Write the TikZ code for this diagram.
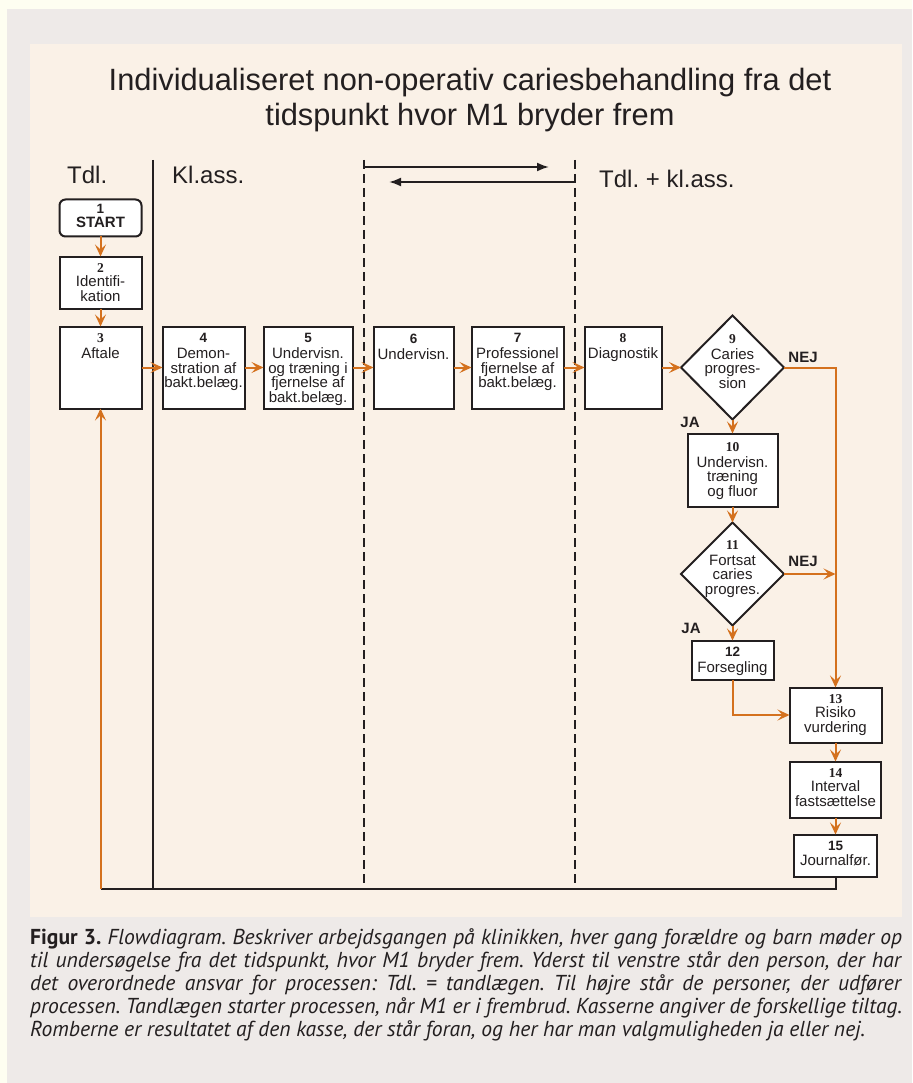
\documentclass[tikz,border=0pt]{standalone}
\usepackage{fontspec}
\setmainfont{Liberation Sans}
\newfontfamily\hvfam{Liberation Sans}
\newfontfamily\tmfam{Liberation Serif}
\newfontfamily\capfam{PT Sans}
\usetikzlibrary{arrows.meta,shapes.geometric}
\definecolor{ylw}{HTML}{FEFEF1}
\definecolor{gry}{HTML}{EEEAE8}
\definecolor{bge}{HTML}{FAF1E7}
\definecolor{orng}{HTML}{D4711E}
\definecolor{ink}{HTML}{231F20}
\newcommand\nT{\fontsize{13.5}{13.5}\selectfont\tmfam\bfseries}
\newcommand\nS{\fontsize{13.5}{13.5}\selectfont\hvfam\bfseries}
\frenchspacing
\begin{document}
\begin{tikzpicture}[x=1pt,y=-1pt,
  box/.style={draw=ink, line width=2pt, fill=white, inner sep=0pt, outer sep=0pt},
  txt/.style={anchor=north, align=center, inner sep=0pt, text=ink, font=\hvfam\fontsize{15}{14.5}\selectfont, yshift=-6.5pt},
  dtxt/.style={txt, yshift=-12pt},
  dia/.style={diamond, draw=ink, line width=2pt, fill=white, inner sep=0pt, outer sep=0pt, minimum width=103pt, minimum height=104pt},
  flow/.style={draw=orng, line width=2pt, -{Stealth[length=12pt,width=11pt,inset=5pt]}},
  sep/.style={draw=ink, line width=2pt},
  dsep/.style={draw=ink, line width=2pt, dash pattern=on 9pt off 5pt},
  blk/.style={draw=ink, line width=2pt, -{Latex[length=12pt,width=9pt]}},
  col/.style={anchor=base west, inner sep=0pt, text=ink, font=\hvfam\fontsize{24}{24}\selectfont},
  yn/.style={inner sep=0pt, text=ink, font=\hvfam\bfseries\fontsize{15}{15}\selectfont}
]
\useasboundingbox (0,0) rectangle (912,1083);
\fill[ylw] (0,0) rectangle (912,1083);
\fill[gry] (7,9) rectangle (912,1083);
\fill[bge] (30,44) rectangle (902,917);

% title
\node[anchor=north, align=center, inner sep=0pt, text=ink, font=\hvfam\fontsize{30.8}{35}\selectfont] (title) at (470,67.5)
  {Individualiseret non-operativ cariesbehandling fra det\\tidspunkt hvor M1 bryder frem};

% column labels
\node[col] (ctdl) at (67,184) {Tdl.};
\node[col] (ckl) at (172,184) {Kl.ass.};
\node[col] (cboth) at (599,188) {Tdl. + kl.ass.};

% separators
\draw[sep] (153,160) -- (153,889);
\draw[dsep] (364,160) -- (364,889);
\draw[dsep] (574.5,160) -- (574.5,889);

% top arrows
\coordinate (a1s) at (364,167);
\coordinate (a1e) at (549,167);
\coordinate (a2s) at (574.5,182);
\coordinate (a2e) at (389,182);
\draw[blk] (a1s) -- (a1e);
\draw[blk] (a2s) -- (a2e);

% boxes
\node[box, rounded corners=6pt, minimum width=82pt, minimum height=37pt,
  label={[txt,yshift=1.5pt]north:{{\nS 1}\\[-1pt]{\bfseries START}}}] (b1) at (100.5,218) {};
\node[box, minimum width=82pt, minimum height=52pt,
  label={[txt]north:{{\nT 2}\\[0pt]Identifi-\\kation}}] (b2) at (100.5,282.5) {};
\node[box, minimum width=82pt, minimum height=82pt,
  label={[txt,yshift=-0.5pt]north:{{\nT 3}\\[1.5pt]Aftale}}] (b3) at (100.5,367.5) {};
\node[box, minimum width=82pt, minimum height=82pt,
  label={[txt,yshift=-0.5pt]north:{{\nS 4}\\[1.5pt]Demon-\\stration af\\bakt.belæg.}}] (b4) at (203.5,367.5) {};
\node[box, minimum width=89pt, minimum height=82pt,
  label={[txt,yshift=-0.5pt]north:{{\nS 5}\\[1.5pt]Undervisn.\\og træning i\\fjernelse af\\bakt.belæg.}}] (b5) at (308,367.5) {};
\node[box, minimum width=80pt, minimum height=82pt,
  label={[txt,yshift=-0.5pt]north:{{\nS 6}\\[1.5pt]Undervisn.}}] (b6) at (413.5,367.5) {};
\node[box, minimum width=92pt, minimum height=82pt,
  label={[txt,yshift=-0.5pt]north:{{\nS 7}\\[1.5pt]Professionel\\fjernelse af\\bakt.belæg.}}] (b7) at (517.5,367.5) {};
\node[box, minimum width=77pt, minimum height=82pt,
  label={[txt,yshift=-0.5pt]north:{{\nT 8}\\[1.5pt]Diagnostik}}] (b8) at (623,367.5) {};
\node[dia, label={[dtxt]north:{{\nT 9}\\[1.5pt]Caries\\progres-\\sion}}] (d9) at (732.5,367.5) {};
\node[box, minimum width=90pt, minimum height=73pt,
  label={[txt,yshift=-2pt]north:{{\nT 10}\\[1.5pt]Undervisn.\\træning\\og fluor}}] (b10) at (732.5,470) {};
\node[dia, minimum height=103pt, label={[dtxt,yshift=1pt]north:{{\nT 11}\\[1.5pt]Fortsat\\caries\\progres.}}] (d11) at (732.5,574) {};
\node[box, minimum width=82pt, minimum height=39pt,
  label={[txt]north:{{\nS 12}\\[1pt]Forsegling}}] (b12) at (732.5,660) {};
\node[box, minimum width=92pt, minimum height=55pt,
  label={[txt]north:{{\nT 13}\\[0pt]Risiko\\vurdering}}] (b13) at (835.5,715) {};
\node[box, minimum width=91pt, minimum height=56pt,
  label={[txt]north:{{\nT 14}\\[0pt]Interval\\fastsættelse}}] (b14) at (835.5,789.5) {};
\node[box, minimum width=83pt, minimum height=42pt,
  label={[txt]north:{{\nS 15}\\[1pt]Journalfør.}}] (b15) at (835.5,855.5) {};

% yes / no labels
\node[yn] (nej9) at (803,357) {NEJ};
\node[yn] (ja9) at (690,422) {JA};
\node[yn] (nej11) at (803,561) {NEJ};
\node[yn] (ja11) at (691,628) {JA};

% flow connectors
\draw[flow] (b1) -- (b2);
\draw[flow] (b2) -- (b3);
\draw[flow] (b3) -- (b4);
\draw[flow] (b4) -- (b5);
\draw[flow] (b5) -- (b6);
\draw[flow] (b6) -- (b7);
\draw[flow] (b7) -- (b8);
\draw[flow] (b8) -- (d9);
\draw[flow] (d9.east) -| (b13.north);
\draw[flow] (d9.south) -- (b10.north);
\draw[flow] (b10.south) -- (d11.north);
\draw[flow] (d11.east) -- (d11.east -| b13.north);
\draw[flow] (d11.south) -- (b12.north);
\draw[flow] (b12.south) |- (b13.west);
\draw[flow] (b13.south) -- (b14.north);
\draw[flow] (b14.south) -- (b15.north);

% return path
\coordinate (ret) at (100.5,889);
\draw[ink, line width=2pt] (b15.south) -- (b15.south |- ret) -- (ret);
\draw[flow] (ret) -- (b3.south);

% caption
\node[anchor=north west, align=left, inner sep=0pt, text=ink, font=\capfam\fontsize{21.6}{23}\selectfont] (cap) at (30,928)
 {\makebox[872pt][s]{\textbf{Figur 3.} \textit{Flowdiagram. Beskriver arbejdsgangen på klinikken, hver gang forældre og barn møder op}}\\
  \makebox[872pt][s]{\textit{til undersøgelse fra det tidspunkt, hvor M1 bryder frem. Yderst til venstre står den person, der har}}\\
  \makebox[872pt][s]{\textit{det overordnede ansvar for processen: Tdl. = tandlægen. Til højre står de personer, der udfører}}\\
  \makebox[872pt][s]{\textit{processen. Tandlægen starter processen, når M1 er i frembrud. Kasserne angiver de forskellige tiltag.}}\\
  \textit{Romberne er resultatet af den kasse, der står foran, og her har man valgmuligheden ja eller nej.}};
\end{tikzpicture}
\end{document}
